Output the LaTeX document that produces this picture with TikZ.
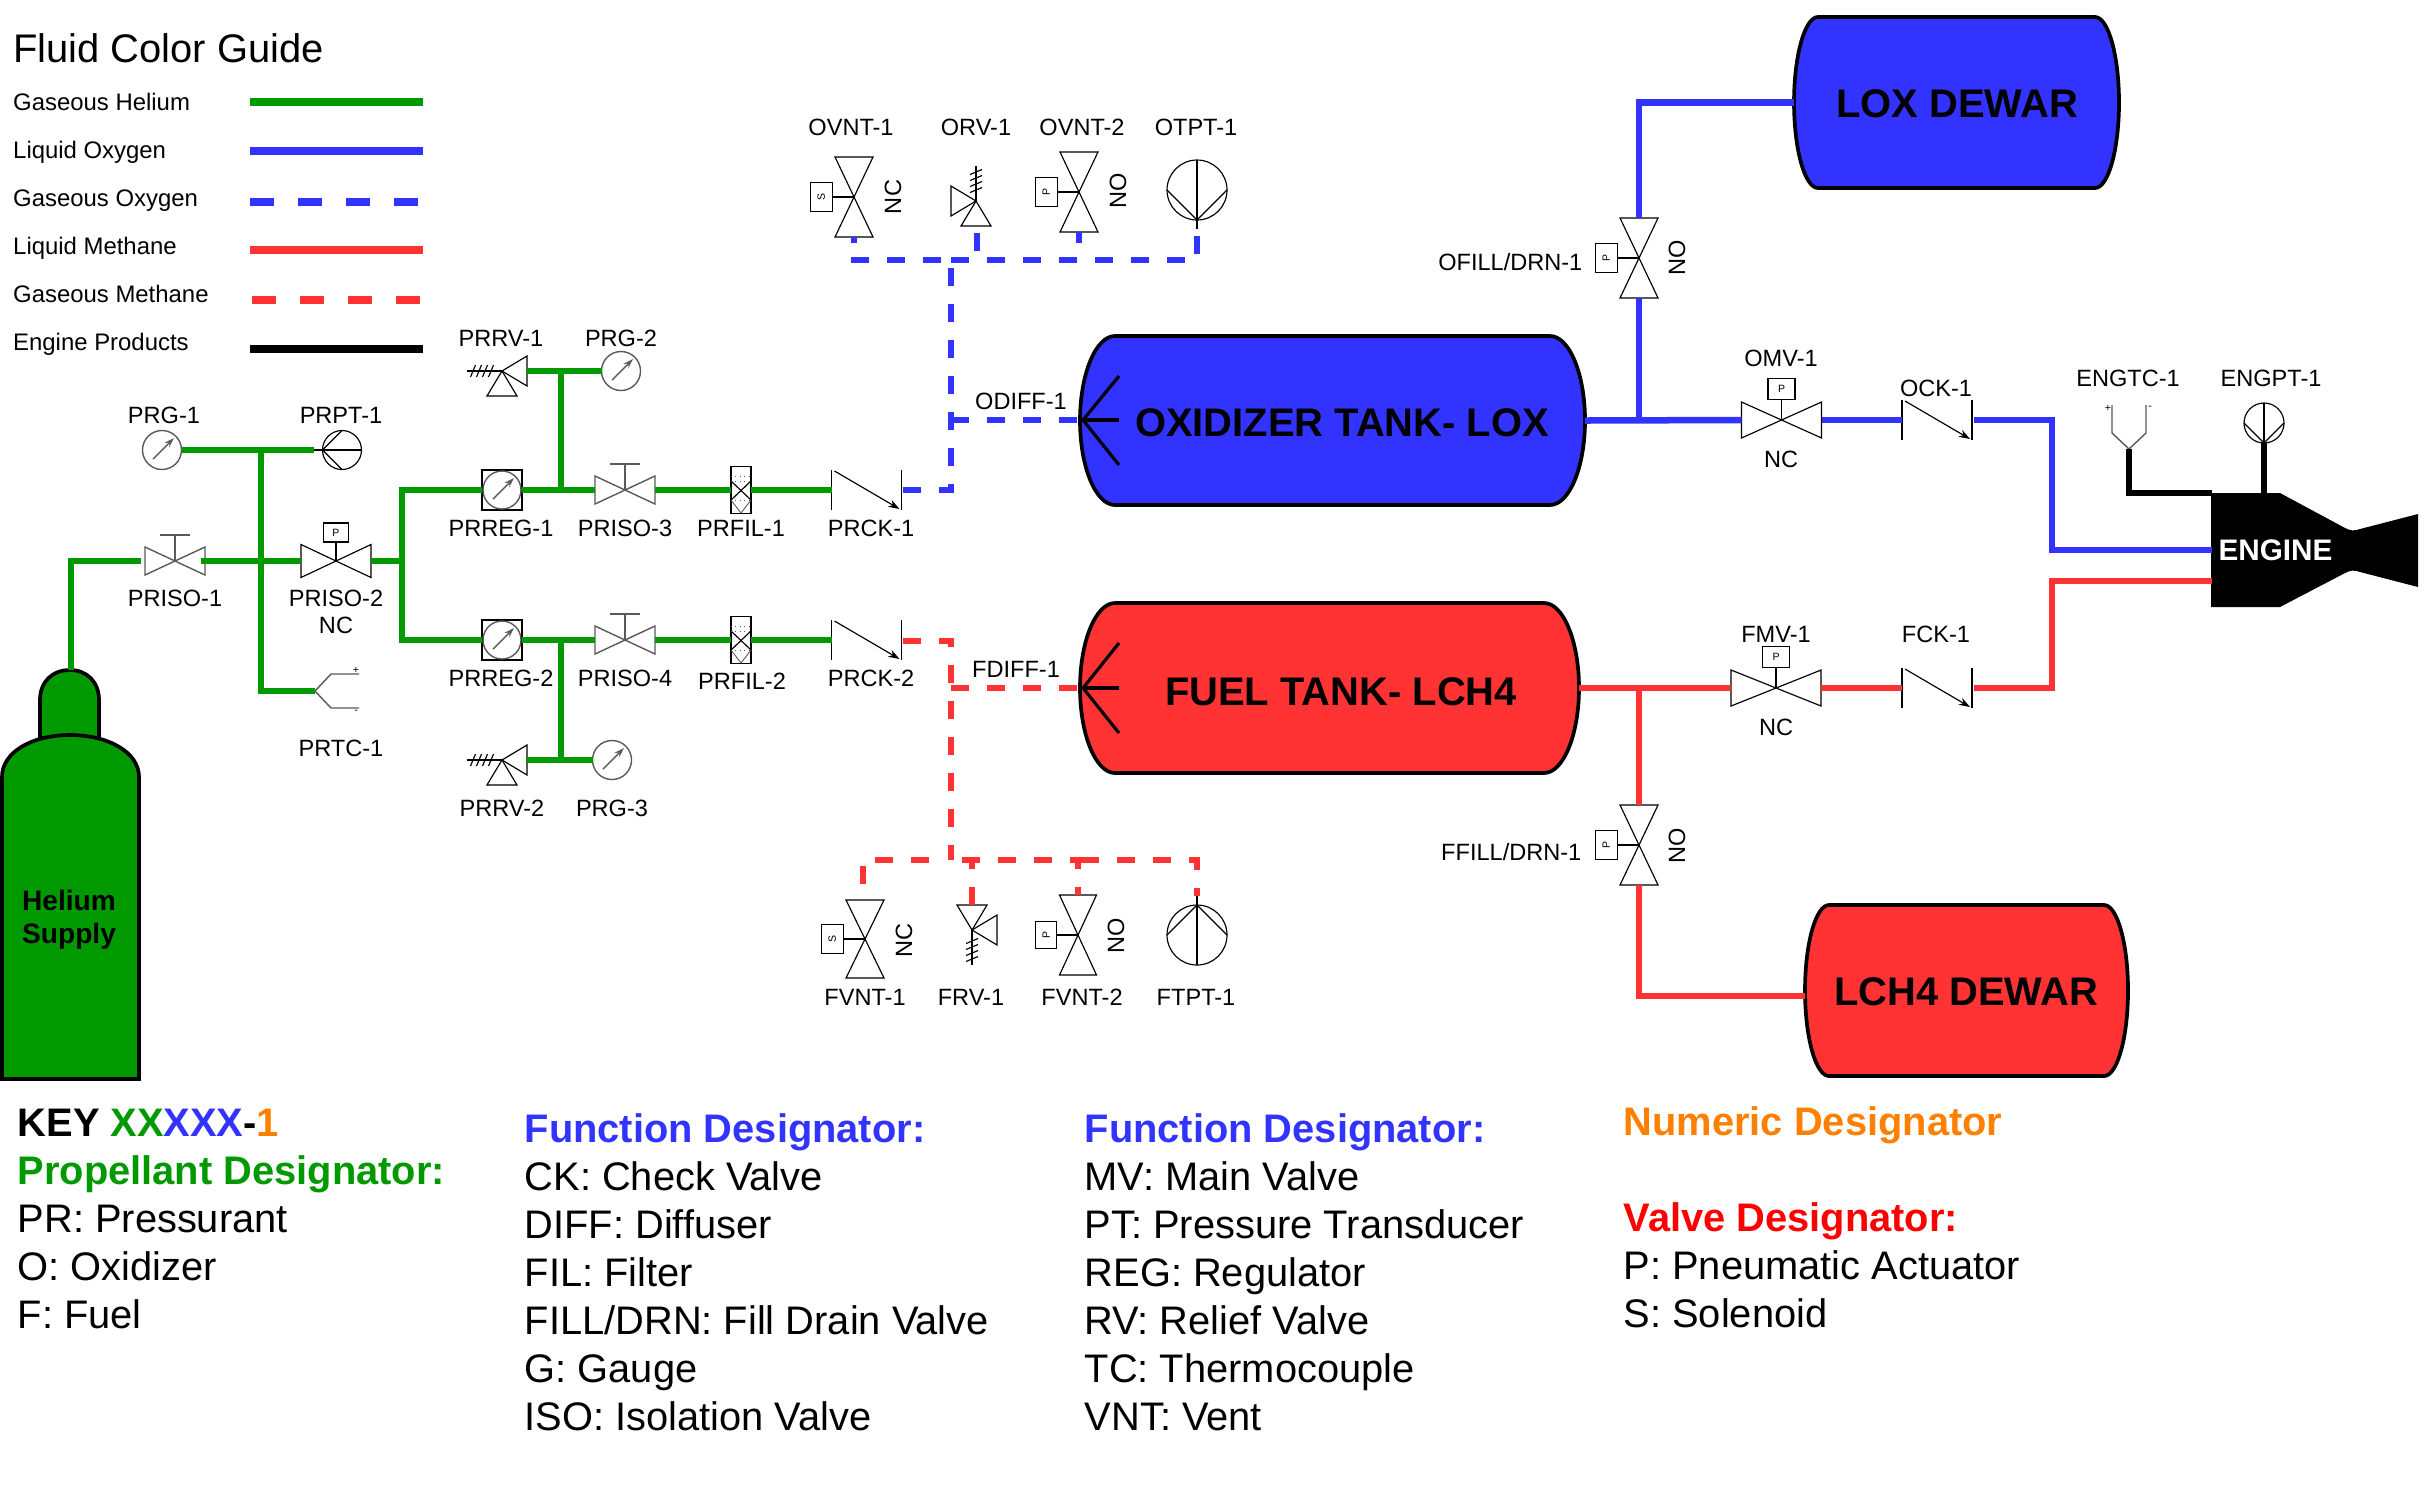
\documentclass[tikz,border=0pt]{standalone}
\usepackage{fontspec}
\setmainfont{Liberation Sans}
\usetikzlibrary{arrows.meta}

\definecolor{heliumgreen}{HTML}{009900}
\definecolor{loxblue}{HTML}{3333FF}
\definecolor{fuelred}{HTML}{FF3333}
\definecolor{numorange}{HTML}{FF8000}
\definecolor{symgray}{HTML}{5A5A5A}

\tikzset{
    hepipe/.style={draw=heliumgreen, line width=1.85pt},
    oxpipe/.style={draw=loxblue, line width=1.85pt},
    chpipe/.style={draw=fuelred, line width=1.85pt},
    engpipe/.style={draw=black, line width=1.85pt},
    oxgas/.style={oxpipe, dash pattern=on 5.12pt off 5.12pt},
    chgas/.style={chpipe, dash pattern=on 5.12pt off 5.12pt},
    symline/.style={draw=black, line width=0.33pt},
    grayline/.style={draw=symgray, line width=0.4pt},
    lbl/.style={font=\fontsize{6.7}{8}\selectfont, inner sep=0pt, yshift=-0.28pt},
    keytext/.style={font=\fontsize{6.8}{8}\selectfont, inner sep=0pt, anchor=base west},
    tanktext/.style={font=\fontsize{11.35}{13}\selectfont\bfseries, inner sep=0pt},
    notes/.style={font=\fontsize{11.33}{13.65}\selectfont, align=left, anchor=north west, inner sep=0pt},
    acttext/.style={font=\fontsize{3}{3}\selectfont, inner sep=0pt, transform shape},
    marktext/.style={font=\fontsize{3}{3}\selectfont, inner sep=0pt},
    tankline/.style={draw=black, line width=1.05pt},
    pics/bowtie/.style 2 args={code={
        \draw[symline] (-#1,-#2) -- (#1,#2) -- (#1,-#2) -- (-#1,#2) -- cycle;
        \coordinate (-w) at (-#1,0);
        \coordinate (-e) at (#1,0);
    }},
    pics/handvalve/.style 2 args={code={
        \draw[grayline] (-#1,-#2) -- (#1,#2) -- (#1,-#2) -- (-#1,#2) -- cycle;
        \draw[grayline] (0,0) -- (0,{-1.85*#2});
        \draw[grayline] (-15,{-1.85*#2}) -- (15,{-1.85*#2});
        \coordinate (-w) at (-#1,0);
        \coordinate (-e) at (#1,0);
    }},
    pics/actvalve/.style n args={3}{code={
        \draw[symline] (-#1,-#2) -- (#1,#2) -- (#1,-#2) -- (-#1,#2) -- cycle;
        \draw[symline] (0,0) -- (0,{-1.15*#2});
        \draw[symline] ({-.75*#2},{-1.15*#2}) rectangle ({.75*#2},{-2.3*#2});
        \node[acttext] (-act) at (0,{-1.72*#2}) {#3};
        \coordinate (-w) at (-#1,0);
        \coordinate (-e) at (#1,0);
    }},
    pics/gauge/.style={code={
        \draw[grayline] (0,0) circle[radius=19.5];
        \draw[grayline, -{Stealth[length=2.8pt,width=1.8pt]}] (-9,9) -- (12,-12);
        \coordinate (-w) at (-19.5,0);
        \coordinate (-e) at (19.5,0);
    }},
    pics/regulator/.style={code={
        \draw[symline] (-20,-20) rectangle (20,20);
        \draw[grayline] (0,0) circle[radius=19];
        \draw[grayline, -{Stealth[length=2.8pt,width=1.8pt]}] (-9,9) -- (12,-12);
        \coordinate (-w) at (-20,0);
        \coordinate (-e) at (20,0);
    }},
    pics/transducer/.style={code={
        \draw[symline] (0,0) circle[radius=#1];
        \draw[symline] (-#1,0) -- (#1,0);
        \draw[symline] (0,-#1) -- (-#1,0) -- (0,#1);
        \draw[symline] (-#1,0) -- ({-#1-9},0);
        \coordinate (-a) at (-#1,0);
        \coordinate (-w) at ({-#1-9},0);
    }},
    pics/relief/.style={code={
        \draw[symline] (0,0) -- (25,-15) -- (25,15) -- cycle;
        \draw[symline] (0,0) -- (-15,25) -- (15,25) -- cycle;
        \draw[symline] (0,0) -- (-35,0);
        \foreach \hx in {-29,-23,-17,-11}
            \draw[symline] ({\hx-2.5},{#1*6}) -- ({\hx+2.5},{#1*-6});
        \coordinate (-in) at (25,0);
    }},
    pics/filter/.style={code={
        \draw[symline] (-10,-23.5) rectangle (10,23.5);
        \draw[symline] (-10,-9) -- (10,10);
        \draw[symline] (-10,10) -- (10,-9);
        \draw[draw=symgray, line width=0.25pt, densely dotted] (-10,-14) -- (10,-14);
        \draw[draw=symgray, line width=0.25pt, densely dotted] (-10,-9) -- (10,-9);
        \draw[draw=symgray, line width=0.25pt, densely dotted] (-10,10) -- (10,10);
        \draw[draw=symgray, line width=0.25pt] (-10,10) -- (0,23) -- (10,10);
        \coordinate (-w) at (-10,0);
        \coordinate (-e) at (10,0);
    }},
    pics/checkvalve/.style={code={
        \draw[symline] (-35,-20) -- (-35,20);
        \draw[symline] (35,-20) -- (35,20);
        \draw[symline, -{Stealth[length=3.2pt,width=2.2pt]}] (-32,-19) -- (33,19);
        \coordinate (-w) at (-35,0);
        \coordinate (-e) at (35,0);
    }},
    pics/tcouple/.style={code={
        \draw[grayline] (0,0) -- (16,-17) -- (44,-17);
        \draw[grayline] (0,0) -- (16,17) -- (44,17);
        \node[marktext] (-plus) at (41,-21) {+};
        \node[marktext] (-minus) at (41,21) {-};
        \coordinate (-w) at (0,0);
    }},
}

% tank: name, left, top, right, bottom, corner depth, fill
\newcommand{\tank}[7]{
    \draw[tankline, fill=#7] ({#2+#6},#3) -- ({#4-#6},#3)
        .. controls ({#4-.45*#6},#3) and (#4,{(#3+#5)/2-.275*(#5-#3)}) .. (#4,{(#3+#5)/2})
        .. controls (#4,{(#3+#5)/2+.275*(#5-#3)}) and ({#4-.45*#6},#5) .. ({#4-#6},#5)
        -- ({#2+#6},#5)
        .. controls ({#2+.45*#6},#5) and (#2,{(#3+#5)/2+.275*(#5-#3)}) .. (#2,{(#3+#5)/2})
        .. controls (#2,{(#3+#5)/2-.275*(#5-#3)}) and ({#2+.45*#6},#3) .. ({#2+#6},#3) -- cycle;
    \coordinate (#1-w) at (#2,{(#3+#5)/2});
    \coordinate (#1-e) at (#4,{(#3+#5)/2});
}

\begin{document}
\begin{tikzpicture}[x=0.01cm, y=-0.01cm]
    \useasboundingbox (0,0) rectangle (2422,1487);

    % Fluid guide
    \node[font=\fontsize{11.35}{13}\selectfont, inner sep=0pt, anchor=west] (guide) at (12.5,48) {Fluid Color Guide};
    \node[keytext] (keyhe) at (12.5,110) {Gaseous Helium};
    \node[keytext] (keylox) at (12.5,158) {Liquid Oxygen};
    \node[keytext] (keygox) at (12.5,206) {Gaseous Oxygen};
    \node[keytext] (keylch) at (12.5,254) {Liquid Methane};
    \node[keytext] (keygch) at (12.5,302) {Gaseous Methane};
    \node[keytext] (keyeng) at (12.5,350) {Engine Products};
    \draw[hepipe, line width=2.28pt] (250,102) -- (423,102);
    \draw[oxpipe, line width=2.28pt] (250,151) -- (423,151);
    \draw[oxpipe, line width=2.28pt, dash pattern=on 6.83pt off 6.83pt] (250,202) -- (418,202);
    \draw[chpipe, line width=2.28pt] (250,250) -- (423,250);
    \draw[chpipe, line width=2.28pt, dash pattern=on 6.83pt off 6.83pt] (252,300) -- (421,300);
    \draw[engpipe, line width=2.28pt] (250,349) -- (423,349);

    % Tanks
    \tank{loxdewar}{1794}{17}{2119}{188}{24}{loxblue}
    \tank{oxtank}{1080}{336}{1585}{505}{35}{loxblue}
    \tank{fueltank}{1080}{603}{1579}{773}{35}{fuelred}
    \tank{lchdewar}{1805}{905}{2128}{1076}{24}{fuelred}
    \node[tanktext] (loxdewartext) at (1957,104) {LOX DEWAR};
    \node[tanktext] (oxtanktext) at (1342,423) {OXIDIZER TANK- LOX};
    \node[tanktext] (fueltanktext) at (1341,691.5) {FUEL TANK- LCH4};
    \node[tanktext] (lchdewartext) at (1966,992) {LCH4 DEWAR};

    % Diffusers
    \coordinate (odiff) at (1083,420);
    \coordinate (fdiff) at (1083,688);
    \draw[engpipe, line width=0.9pt] (1119,376) -- (odiff) -- (1119,465);
    \draw[engpipe, line width=0.9pt] (odiff) -- (1119,420);
    \draw[engpipe, line width=0.9pt] (1119,643) -- (fdiff) -- (1119,733);
    \draw[engpipe, line width=0.9pt] (fdiff) -- (1119,688);

    % Helium bottle
    \draw[tankline, fill=heliumgreen] (40,738) -- (40,700) .. controls (40,682) and (52,670) .. (70,670)
        .. controls (87,670) and (99,682) .. (99,700) -- (99,738) -- cycle;
    \draw[tankline, fill=heliumgreen] (2,1079) -- (2,777) .. controls (2,752) and (32,735) .. (70,735)
        .. controls (108,735) and (139,752) .. (139,777) -- (139,1079) -- cycle;
    \coordinate (heliumtop) at (71,670);
    \node[font=\fontsize{8}{9.4}\selectfont\bfseries, align=center, inner sep=0pt] (heliumtext) at (69,920) {Helium\\Supply};

    % Engine
    \coordinate (engox) at (2212,550);
    \coordinate (engfuel) at (2212,581);
    \coordinate (engtcport) at (2212,493);
    \coordinate (engptport) at (2264,493);
    \fill[black] (2211,493) -- (2280,493) -- (2345,528) .. controls (2351,531) and (2354,531) .. (2360,529)
        -- (2418,514) -- (2418,587) -- (2360,572) .. controls (2354,570) and (2351,570) .. (2345,573)
        -- (2280,607) -- (2211,607) -- cycle;
    \node[font=\fontsize{8.45}{10}\selectfont\bfseries, text=white, inner sep=0pt] (enginetext) at (2275.5,550.5) {ENGINE};

    % Pressurant components
    \pic (priso1) at (175,561) {handvalve={30}{14}};
    \pic (priso2) at (336,561) {actvalve={35}{16.5}{P}};
    \pic (prg1) at (162,450) {gauge};
    \pic (prpt1) at (342,450) {transducer=19.5};
    \pic (prtc1) at (315,691) {tcouple};
    \pic (prreg1) at (502,490) {regulator};
    \pic (prreg2) at (502,640) {regulator};
    \pic (priso3) at (625,490) {handvalve={30}{14}};
    \pic (priso4) at (625,640) {handvalve={30}{14}};
    \pic (prfil1) at (741,490) {filter};
    \pic (prfil2) at (741,640) {filter};
    \pic (prck1) at (866.5,490) {checkvalve};
    \pic (prck2) at (866.5,640) {checkvalve};
    \pic (prrv1) at (502,371) {relief=1};
    \pic (prrv2) at (502,760) {relief=1};
    \pic (prg2) at (621,371) {gauge};
    \pic (prg3) at (612,760) {gauge};

    % Oxidizer components
    \pic[rotate=90] (ovnt1) at (854,197) {actvalve={40}{19}{S}};
    \pic[rotate=-90] (orv1) at (976,201) {relief=-1};
    \pic[rotate=90] (ovnt2) at (1079,192) {actvalve={40}{19}{P}};
    \pic[rotate=90] (otpt1) at (1197,190) {transducer=30};
    \pic[rotate=90] (ofill) at (1639,258) {actvalve={40}{19}{P}};
    \pic (omv1) at (1781.5,420) {actvalve={40}{18}{P}};
    \pic (ock1) at (1937,420) {checkvalve};
    \pic[rotate=90] (engtc1) at (2129,449) {tcouple};
    \pic[rotate=90] (engpt1) at (2264,423) {transducer=20};

    % Fuel components
    \pic[rotate=90] (fvnt1) at (865,939) {actvalve={39}{19}{S}};
    \pic[rotate=90] (frv1) at (972,930) {relief=-1};
    \pic[rotate=90] (fvnt2) at (1078,935) {actvalve={40}{18.5}{P}};
    \pic[rotate=-90] (ftpt1) at (1197,935) {transducer=30};
    \pic[rotate=90] (ffill) at (1639,845) {actvalve={40}{19}{P}};
    \pic (fmv1) at (1776,688) {actvalve={45}{18}{P}};
    \pic (fck1) at (1937,688) {checkvalve};

    % Helium lines
    \coordinate (hetee) at (261,450);
    \coordinate (heleft) at (261,561);
    \coordinate (heright) at (402,561);
    \coordinate (prtee1) at (561,490);
    \coordinate (prtop) at (561,371);
    \coordinate (prtee2) at (561,640);
    \coordinate (prbot) at (561,760);
    \draw[hepipe, shorten >=1.1pt] (heliumtop) |- (priso1-w);
    \draw[hepipe, shorten <=-1pt] (priso1-e) -- (priso2-w);
    \draw[hepipe] (priso2-e) -- (heright);
    \draw[hepipe] (prg1-e) -- (prpt1-w);
    \draw[hepipe] (hetee) |- (prtc1-w);
    \draw[hepipe] (prreg1-w) -| (heright) |- (prreg2-w);
    \draw[hepipe] (prreg1-e) -- (priso3-w);
    \draw[hepipe] (prreg2-e) -- (priso4-w);
    \draw[hepipe] (priso3-e) -- (prfil1-w);
    \draw[hepipe] (priso4-e) -- (prfil2-w);
    \draw[hepipe] (prfil1-e) -- (prck1-w);
    \draw[hepipe] (prfil2-e) -- (prck2-w);
    \draw[hepipe] (prtee1) -- (prtop);
    \draw[hepipe] (prtee2) -- (prbot);
    \draw[hepipe] (prrv1-in) -- (prg2-w);
    \draw[hepipe] (prrv2-in) -- (prg3-w);

    % Oxygen lines
    \coordinate (oxtee) at (951,260);
    \coordinate (oxport) at (1078,420);
    \coordinate (oxtap) at (951,420);
    \coordinate (oxbend) at (2052,550);
    \coordinate (orvstub) at (977,233);
    \coordinate (otptend) at (1197,235);
    \coordinate (oxstart) at (903,490);
    \coordinate (oxjoin) at (1639,420);
    \draw[oxgas] (oxstart) -| (oxtee);
    \draw[oxgas] (oxtap) -- (oxport);
    \draw[oxgas] (851,260) -- (oxtee);
    \draw[oxgas] (oxtee) -| (otptend);
    \draw[oxgas, dash phase=3.4pt] (ovnt1-w) -- (ovnt1-w |- oxtee);
    \draw[oxgas] (orvstub) -- (orvstub |- oxtee);
    \draw[oxgas, dash phase=2pt] (ovnt2-w) -- (ovnt2-w |- oxtee);
    \draw[oxpipe] (oxtank-e) -- (omv1-w);
    \draw[oxpipe] (omv1-e) -- (ock1-w);
    \draw[oxpipe, shorten <=0.6pt] (ock1-e) -| (oxbend) -- (engox);
    \draw[oxpipe] (oxjoin) -- (ofill-w);
    \draw[oxpipe] (ofill-e) |- (loxdewar-w);

    % Methane lines
    \coordinate (chstart) at (903,641);
    \coordinate (chtee) at (951,860);
    \coordinate (chtap) at (951,688);
    \coordinate (chport) at (1078,688);
    \coordinate (chbend) at (2052,581);
    \coordinate (chjoin) at (1639,688);
    \coordinate (lchport) at (1805,996);
    \coordinate (fvntend) at (863,884);
    \coordinate (ftptend) at (1197,896);
    \coordinate (chmid) at (1088,860);
    \coordinate (chseg) at (962,860);
    \draw[chgas] (chstart) -| (chtee);
    \draw[chgas] (chtap) -- (chport);
    \draw[chgas] (fvntend) |- (945,860);
    \draw[chgas] (chseg) -- (chmid);
    \draw[chgas, dash phase=2pt] (chmid) -| (ftptend);
    \draw[chgas] (frv1-in) -- (frv1-in |- chtee);
    \draw[chgas, dash phase=2.85pt] (fvnt2-e) -- (fvnt2-e |- chtee);
    \draw[chpipe] (fueltank-e) -- (fmv1-w);
    \draw[chpipe] (fmv1-e) -- (fck1-w);
    \draw[chpipe, shorten <=0.6pt] (fck1-e) -| (chbend) -- (engfuel);
    \draw[chpipe] (chjoin) -- (ffill-e);
    \draw[chpipe] (ffill-w) |- (lchport);

    % Engine lines
    \draw[engpipe] (engtc1-w) |- (engtcport);
    \draw[engpipe] (engpt1-a) -- (engptport);

    % Labels
    \node[lbl] (lprg1) at (164,414) {PRG-1};
    \node[lbl] (lprpt1) at (341,414) {PRPT-1};
    \node[lbl] (lpriso1) at (175,597) {PRISO-1};
    \node[lbl] (lpriso2) at (336,597) {PRISO-2};
    \node[lbl] (lprisonc) at (336,624) {NC};
    \node[lbl] (lprtc1) at (341,747) {PRTC-1};
    \node[lbl] (lprrv1) at (501,337) {PRRV-1};
    \node[lbl] (lprg2) at (621,337) {PRG-2};
    \node[lbl] (lprreg1) at (501,527) {PRREG-1};
    \node[lbl] (lpriso3) at (625,527) {PRISO-3};
    \node[lbl] (lprfil1) at (741,527) {PRFIL-1};
    \node[lbl] (lprck1) at (871,527) {PRCK-1};
    \node[lbl] (lprreg2) at (501,677) {PRREG-2};
    \node[lbl] (lpriso4) at (625,677) {PRISO-4};
    \node[lbl] (lprfil2) at (742,680) {PRFIL-2};
    \node[lbl] (lprck2) at (871,677) {PRCK-2};
    \node[lbl] (lprrv2) at (502,807) {PRRV-2};
    \node[lbl] (lprg3) at (612,807) {PRG-3};

    \node[lbl] (lovnt1) at (851,126) {OVNT-1};
    \node[lbl] (lorv1) at (976,126) {ORV-1};
    \node[lbl] (lovnt2) at (1082,126) {OVNT-2};
    \node[lbl] (lotpt1) at (1196,126) {OTPT-1};
    \node[lbl, rotate=90] (lovnt1nc) at (893,196) {NC};
    \node[lbl, rotate=90] (lovnt2no) at (1118,190) {NO};
    \node[lbl] (lodiff) at (1021,400) {ODIFF-1};
    \node[lbl, anchor=east] (lofill) at (1583,261) {OFILL/DRN-1};
    \node[lbl, rotate=90] (lofillno) at (1677,257) {NO};
    \node[lbl] (lomv1) at (1781,357) {OMV-1};
    \node[lbl] (lomvnc) at (1781,458) {NC};
    \node[lbl] (lock1) at (1936,387) {OCK-1};
    \node[lbl] (lengtc1) at (2128,377) {ENGTC-1};
    \node[lbl] (lengpt1) at (2271,377) {ENGPT-1};

    \node[lbl] (lfdiff) at (1016,668) {FDIFF-1};
    \node[lbl] (lfmv1) at (1776,633) {FMV-1};
    \node[lbl] (lfmvnc) at (1776,726) {NC};
    \node[lbl] (lfck1) at (1936,633) {FCK-1};
    \node[lbl, anchor=east] (lffill) at (1582,851) {FFILL/DRN-1};
    \node[lbl, rotate=90] (lffillno) at (1677,845) {NO};
    \node[lbl, rotate=90] (lfvnt1nc) at (904,939) {NC};
    \node[lbl, rotate=90] (lfvnt2no) at (1116,935) {NO};
    \node[lbl] (lfvnt1) at (865,996) {FVNT-1};
    \node[lbl] (lfrv1) at (971,996) {FRV-1};
    \node[lbl] (lfvnt2) at (1082,996) {FVNT-2};
    \node[lbl] (lftpt1) at (1196,996) {FTPT-1};

    % Key text
    \node[notes] (keypropellant) at (17,1108) {\textbf{KEY \textcolor{heliumgreen}{XX}\textcolor{loxblue}{XXX}-\textcolor{numorange}{1}}\\
        \textbf{\textcolor{heliumgreen}{Propellant Designator:}}\\
        PR: Pressurant\\
        O: Oxidizer\\
        F: Fuel};
    \node[notes] (keyfunctiona) at (524,1113) {\textbf{\textcolor{loxblue}{Function Designator:}}\\
        CK: Check Valve\\
        DIFF: Diffuser\\
        FIL: Filter\\
        FILL/DRN: Fill Drain Valve\\
        G: Gauge\\
        ISO: Isolation Valve};
    \node[notes] (keyfunctionb) at (1084,1113) {\textbf{\textcolor{loxblue}{Function Designator:}}\\
        MV: Main Valve\\
        PT: Pressure Transducer\\
        REG: Regulator\\
        RV: Relief Valve\\
        TC: Thermocouple\\
        VNT: Vent};
    \node[notes] (keynumeric) at (1623,1106) {\textbf{\textcolor{numorange}{Numeric Designator}}\\
        \mbox{}\\
        \textbf{\textcolor{red}{Valve Designator:}}\\
        P: Pneumatic Actuator\\
        S: Solenoid};
\end{tikzpicture}
\end{document}
